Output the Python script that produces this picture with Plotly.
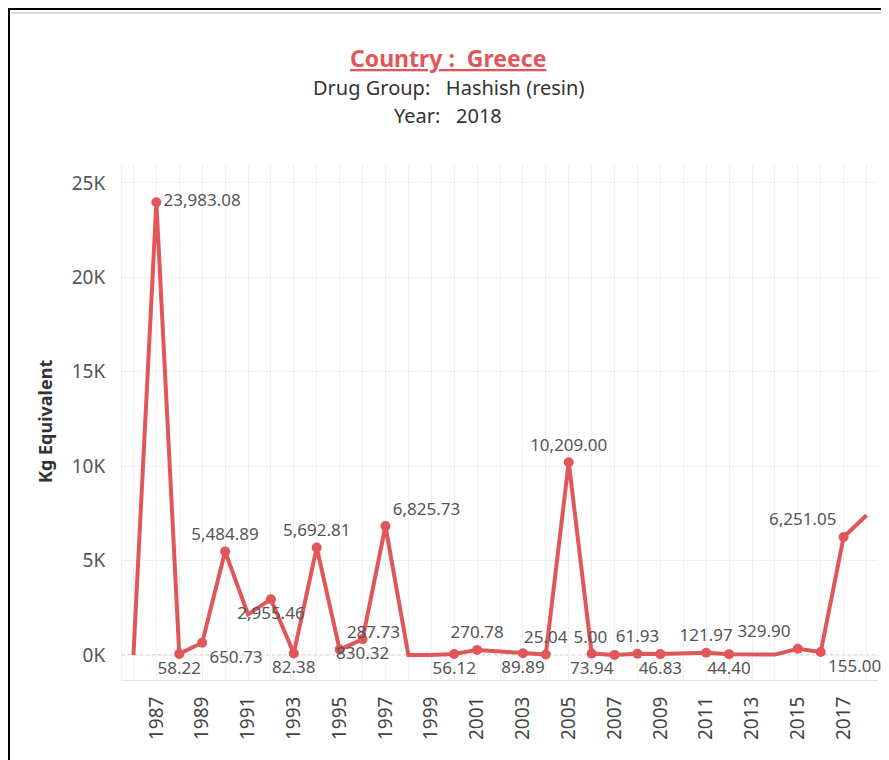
import plotly.graph_objects as go

# ---- data ----
years = list(range(1986, 2019))
values = [0, 23983.08, 58.22, 650.73, 5484.89, 2150, 2955.46, 82.38, 5692.81, 287.73,
          830.32, 6825.73, 0, 0, 56.12, 270.78, 180, 89.89, 25.04, 10209.00,
          73.94, 5.00, 61.93, 46.83, 80, 121.97, 44.40, 20, 20, 329.90,
          155.00, 6251.05, 7400]
labeled = [False, True, True, True, True, False, True, True, True, True,
           True, True, False, False, True, True, False, True, True, True,
           True, True, True, True, False, True, True, False, False, True,
           True, True, False]
label_pos = ["top center", "middle right", "bottom center", "bottom right", "top center",
             "top center", "bottom center", "bottom center", "top center", "top right",
             "bottom center", "top right", "top center", "top center", "bottom center",
             "top center", "top center", "bottom center", "top center", "top center",
             "bottom center", "top left", "top center", "bottom center", "top center",
             "top center", "bottom center", "top center", "top center", "top left",
             "bottom right", "top left", "top center"]
y_tick_vals = [0, 5000, 10000, 15000, 20000, 25000]
y_tick_text = ["0K", "5K", "10K", "15K", "20K", "25K"]
x_tick_text = [str(y) if y % 2 == 1 else "" for y in years]

RED = "#e15759"
FONT = "Noto Sans"
OFF = 8  # page body margin

texts = [f"{v:,.2f}" if lab else "" for v, lab in zip(values, labeled)]
msizes = [10 if lab else 0 for lab in labeled]

W, H = 889 - OFF, 760 - OFF
# plot area in reference pixel coords
L, R, T, B = 122 - OFF, 878 - OFF, 165 - OFF, 680 - OFF

def px_x(p):
    return (p - OFF - L) / (R - L)
def px_y(p):
    return (B - (p - OFF)) / (B - T)

fig = go.Figure()
fig.add_trace(go.Scatter(
    x=years, y=values, mode="lines+markers+text",
    line=dict(color=RED, width=4),
    marker=dict(color=RED, size=msizes, opacity=1, line=dict(width=0)),
    opacity=1,
    text=texts, textposition=label_pos,
    textfont=dict(family=FONT, size=17, color="#555555"),
    cliponaxis=False, hoverinfo="skip",
))

shapes = [
    dict(type="line", xref="paper", yref="y", x0=0, x1=1, y0=0, y1=0,
         line=dict(color="#b0b0b0", width=1, dash="dot"), layer="below"),
    dict(type="rect", xref="paper", yref="paper", x0=px_x(9), x1=px_x(920),
         y0=px_y(9), y1=px_y(800), line=dict(color="black", width=2)),
    dict(type="line", xref="paper", yref="paper", x0=px_x(11), x1=px_x(886),
         y0=px_y(13), y1=px_y(13), line=dict(color="#dcdcdc", width=2)),
]

annotations = [
    dict(text="<b><u>Country :  Greece</u></b>", xref="paper", yref="paper",
         x=px_x(448), y=px_y(58), showarrow=False, xanchor="center", yanchor="middle",
         font=dict(family=FONT, size=23, color=RED)),
    dict(text="Drug Group:   Hashish (resin)", xref="paper", yref="paper",
         x=px_x(448), y=px_y(87), showarrow=False, xanchor="center", yanchor="middle",
         font=dict(family=FONT, size=20, color="#333333")),
    dict(text="Year:   2018", xref="paper", yref="paper",
         x=px_x(448), y=px_y(116), showarrow=False, xanchor="center", yanchor="middle",
         font=dict(family=FONT, size=20, color="#333333")),
    dict(text="<b>Kg Equivalent</b>", xref="paper", yref="paper",
         x=px_x(45), y=px_y(422), showarrow=False, textangle=-90,
         xanchor="center", yanchor="middle",
         font=dict(family=FONT, size=18, color="#333333")),
]

fig.update_layout(
    width=W, height=H,
    margin=dict(l=L, r=W - R, t=T, b=H - B, pad=0),
    paper_bgcolor="white", plot_bgcolor="white",
    showlegend=False,
    shapes=shapes, annotations=annotations,
    font=dict(family=FONT),
)
fig.update_xaxes(
    range=[1985.5, 2018.5], tickvals=years, ticktext=x_tick_text,
    tickangle=-90, tickfont=dict(family=FONT, size=19, color="#444444"),
    showgrid=True, gridcolor="#efefef", gridwidth=1,
    showline=True, linecolor="#e4e4e4", linewidth=1,
    zeroline=False, ticks="", ticklabelstandoff=8,
)
fig.update_yaxes(
    range=[-1324, 25952], tickvals=y_tick_vals, ticktext=y_tick_text,
    tickfont=dict(family=FONT, size=19, color="#555555"),
    showgrid=True, gridcolor="#efefef", gridwidth=1,
    showline=True, linecolor="#efefef", zeroline=False, ticks="",
    ticklabelstandoff=12,
)

fig.write_html("out.html")
